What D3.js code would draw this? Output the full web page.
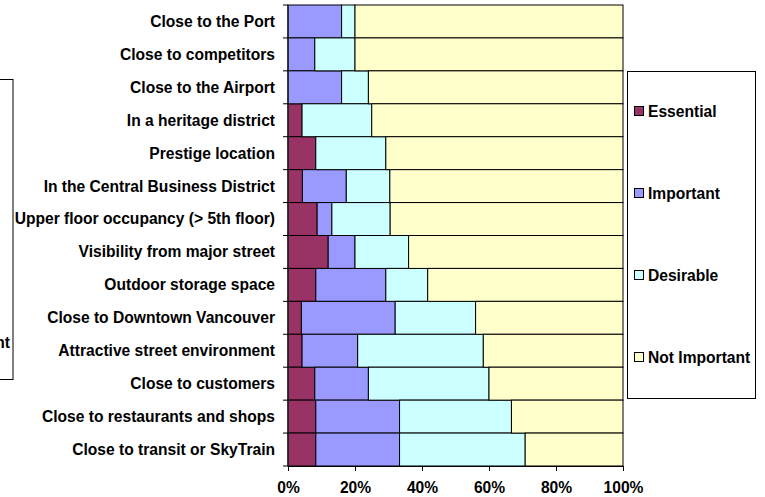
<!DOCTYPE html>
<html>
<head>
<meta charset="utf-8">
<script src="https://cdn.jsdelivr.net/npm/d3@7"></script>
<style>
  body { margin: 0; background: #fff; }
  svg { display: block; font-family: Arial, "Liberation Sans", sans-serif; font-weight: bold; }
</style>
</head>
<body>
<svg id="chart" width="765" height="497"></svg>
<script>
// rows from top to bottom
const categories = [
    'Close to the Port',
    'Close to competitors',
    'Close to the Airport',
    'In a heritage district',
    'Prestige location',
    'In the Central Business District',
    'Upper floor occupancy (> 5th floor)',
    'Visibility from major street',
    'Outdoor storage space',
    'Close to Downtown Vancouver',
    'Attractive street environment',
    'Close to customers',
    'Close to restaurants and shops',
    'Close to transit or SkyTrain'
]
const essential    = [0, 0, 0, 4.2, 8.3, 4.3, 8.7, 12, 8.3, 4, 4.2, 8, 8.3, 8.3]
const important    = [16, 8, 16, 0, 0, 13.1, 4.4, 8, 20.9, 28, 16.6, 16, 25, 25]
const desirable    = [4, 12, 8, 20.8, 20.9, 13, 17.4, 16, 12.5, 24, 37.5, 36, 33.4, 37.5]
const notImportant = [80, 80, 76, 75, 70.8, 69.6, 69.5, 64, 58.3, 44, 41.7, 40, 33.3, 29.2]
const seriesNames = ['Essential', 'Important', 'Desirable', 'Not Important']
const seriesColors = ['#993366', '#9999ff', '#ccffff', '#ffffcc']
const xTicks = [0, 20, 40, 60, 80, 100]

const svg = d3.select('#chart')
const margin = {left: 288, right: 142, top: 5, bottom: 31}
const W = 765, H = 497
const FONT = 15.6

const rows = categories.map((c, i) => ({
    name: c,
    Essential: essential[i],
    Important: important[i],
    Desirable: desirable[i],
    'Not Important': notImportant[i]
}))

const x = d3.scaleLinear().domain([0, 100]).range([margin.left, W - margin.right])
const y = d3.scaleBand().domain(categories).range([margin.top, H - margin.bottom]).padding(0)
const color = d3.scaleOrdinal().domain(seriesNames).range(seriesColors)

const stacked = d3.stack().keys(seriesNames)(rows)

// bars
svg.append('g').selectAll('g')
    .data(stacked).enter()
    .append('g')
        .attr('fill', (d) => color(d.key))
    .selectAll('rect')
    .data((d) => d.filter((s) => s[1] - s[0] > 0)).enter()
    .append('rect')
        .attr('x', (d) => x(d[0]))
        .attr('y', (d) => y(d.data.name))
        .attr('width', (d) => x(d[1]) - x(d[0]))
        .attr('height', y.bandwidth())
        .attr('stroke', '#000')
        .attr('stroke-width', 1)

// y axis
const yAxis = svg.append('g')
    .attr('transform', `translate(${margin.left},0)`)
yAxis.append('line')
    .attr('x1', 0).attr('x2', 0)
    .attr('y1', margin.top).attr('y2', H - margin.bottom)
    .attr('stroke', '#222').attr('stroke-width', 1.5)
yAxis.selectAll('.tick')
    .data(d3.range(categories.length + 1)).enter()
    .append('line')
        .attr('x1', -5).attr('x2', 0)
        .attr('y1', (i) => margin.top + i * y.step())
        .attr('y2', (i) => margin.top + i * y.step())
        .attr('stroke', '#000')
yAxis.selectAll('text')
    .data(categories).enter()
    .append('text')
        .attr('x', -13)
        .attr('y', (d) => y(d) + y.bandwidth() / 2)
        .attr('dy', '0.35em')
        .attr('text-anchor', 'end')
        .attr('font-size', FONT)
        .attr('fill', '#000')
        .text((d) => d)

// x axis
const xAxis = svg.append('g')
    .attr('transform', `translate(0,${H - margin.bottom})`)
    .call(d3.axisBottom(x).tickValues(xTicks).tickSize(5).tickFormat((d) => d + '%'))
xAxis.select('.domain').attr('stroke', '#000')
xAxis.selectAll('.tick line').attr('stroke', '#000')
xAxis.selectAll('.tick text')
    .attr('font-size', FONT)
    .attr('font-family', 'Arial, "Liberation Sans", sans-serif')
    .attr('font-weight', 'bold')
    .attr('fill', '#000')
    .attr('y', 16)

// legend
const legend = svg.append('g')
legend.append('rect')
    .attr('x', 627.5).attr('y', 71.5)
    .attr('width', 128).attr('height', 327)
    .attr('fill', '#fff').attr('stroke', '#000')
const legendY = d3.scalePoint().domain(seriesNames).range([111, 357])
const items = legend.selectAll('.item')
    .data(seriesNames).enter()
    .append('g')
        .attr('transform', (d) => `translate(634,${legendY(d)})`)
items.append('rect')
    .attr('x', 0.5).attr('y', -4.5)
    .attr('width', 9).attr('height', 9)
    .attr('fill', (d) => color(d))
    .attr('stroke', '#000')
items.append('text')
    .attr('x', 14)
    .attr('dy', '0.36em')
    .attr('font-size', FONT)
    .attr('fill', '#000')
    .text((d) => d)

// clipped legend at the left edge
const leftBox = svg.append('g')
leftBox.append('rect')
    .attr('x', -120).attr('y', 79.5)
    .attr('width', 133).attr('height', 300)
    .attr('fill', 'none').attr('stroke', '#000')
leftBox.append('text')
    .attr('x', 10).attr('y', 342)
    .attr('dy', '0.36em')
    .attr('text-anchor', 'end')
    .attr('font-size', FONT)
    .attr('fill', '#000')
    .text('Not Important')
</script>
</body>
</html>
